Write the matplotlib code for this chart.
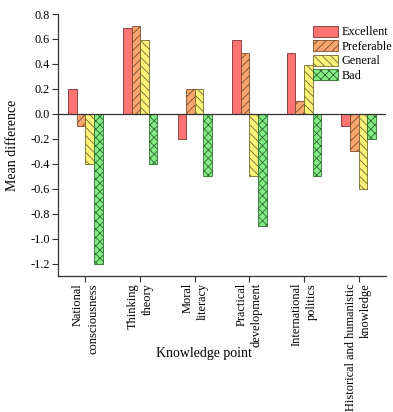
import matplotlib
matplotlib.use("Agg")
import matplotlib.pyplot as plt
import numpy as np

plt.rcParams['font.family'] = ['Liberation Serif', 'DejaVu Serif']
plt.rcParams['hatch.linewidth'] = 0.6

categories = ["National\nconsciousness", "Thinking\ntheory", "Moral\nliteracy",
              "Practical\ndevelopment", "International\npolitics",
              "Historical and humanistic\nknowledge"]
series_names = ["Excellent", "Preferable", "General", "Bad"]
excellent = [0.2, 0.69, -0.2, 0.59, 0.49, -0.1]
preferable = [-0.1, 0.70, 0.2, 0.49, 0.1, -0.3]
general = [-0.4, 0.59, 0.2, -0.5, 0.39, -0.6]
bad = [-1.2, -0.4, -0.5, -0.9, -0.5, -0.2]
yticks = [0.8, 0.6, 0.4, 0.2, 0.0, -0.2, -0.4, -0.6, -0.8, -1.0, -1.2]

colors = ['#FF7373', '#F9A66E', '#FFF27A', '#85EB85']
edges = ['#7a3030', '#7a4a2a', '#6e6a30', '#2e6e2e']
hatches = [None, '////', '\\\\\\\\', 'xxxx']

fig = plt.figure(figsize=(3.93, 4.12), dpi=100)
ax = fig.add_axes([0.148, 0.330, 0.834, 0.636])

x = np.arange(len(categories))
w = 0.157
data = [excellent, preferable, general, bad]
for i, (vals, name) in enumerate(zip(data, series_names)):
    ax.bar(x + (i - 1.5) * w, vals, w, color=colors[i], edgecolor=edges[i],
           hatch=hatches[i], linewidth=0.6, label=name)

ax.axhline(0, color='#333333', linewidth=0.9)
ax.set_xlim(-0.5, 5.5)
ax.set_ylim(-1.3, 0.8)
ax.set_yticks(yticks)
ax.set_yticklabels([f"{v:.1f}" for v in yticks], fontsize=8.8)
ax.set_xticks(x)
ax.set_xticklabels(categories, rotation=90, fontsize=8.9, ha='center', va='top',
                   multialignment='right', linespacing=1.35)
ax.tick_params(direction='out', length=4, width=0.8, color='#333333', pad=2)
ax.tick_params(axis='x', pad=1)
for s in ['top', 'right']:
    ax.spines[s].set_visible(False)
for s in ['left', 'bottom']:
    ax.spines[s].set_color('#333333')
    ax.spines[s].set_linewidth(0.9)

ax.set_ylabel("Mean difference", fontsize=10)
ax.yaxis.set_label_coords(-0.12, 0.5)
fig.text(0.518, 1 - 353 / 412, "Knowledge point", ha='center', va='center', fontsize=10)

leg = ax.legend(loc='upper left', bbox_to_anchor=(0.778, 0.955), frameon=False,
                fontsize=8.8, handlelength=2.05, handleheight=1.0,
                handletextpad=0.3, labelspacing=0.15, borderaxespad=0, borderpad=0)

fig.savefig("out.png", dpi=100)
